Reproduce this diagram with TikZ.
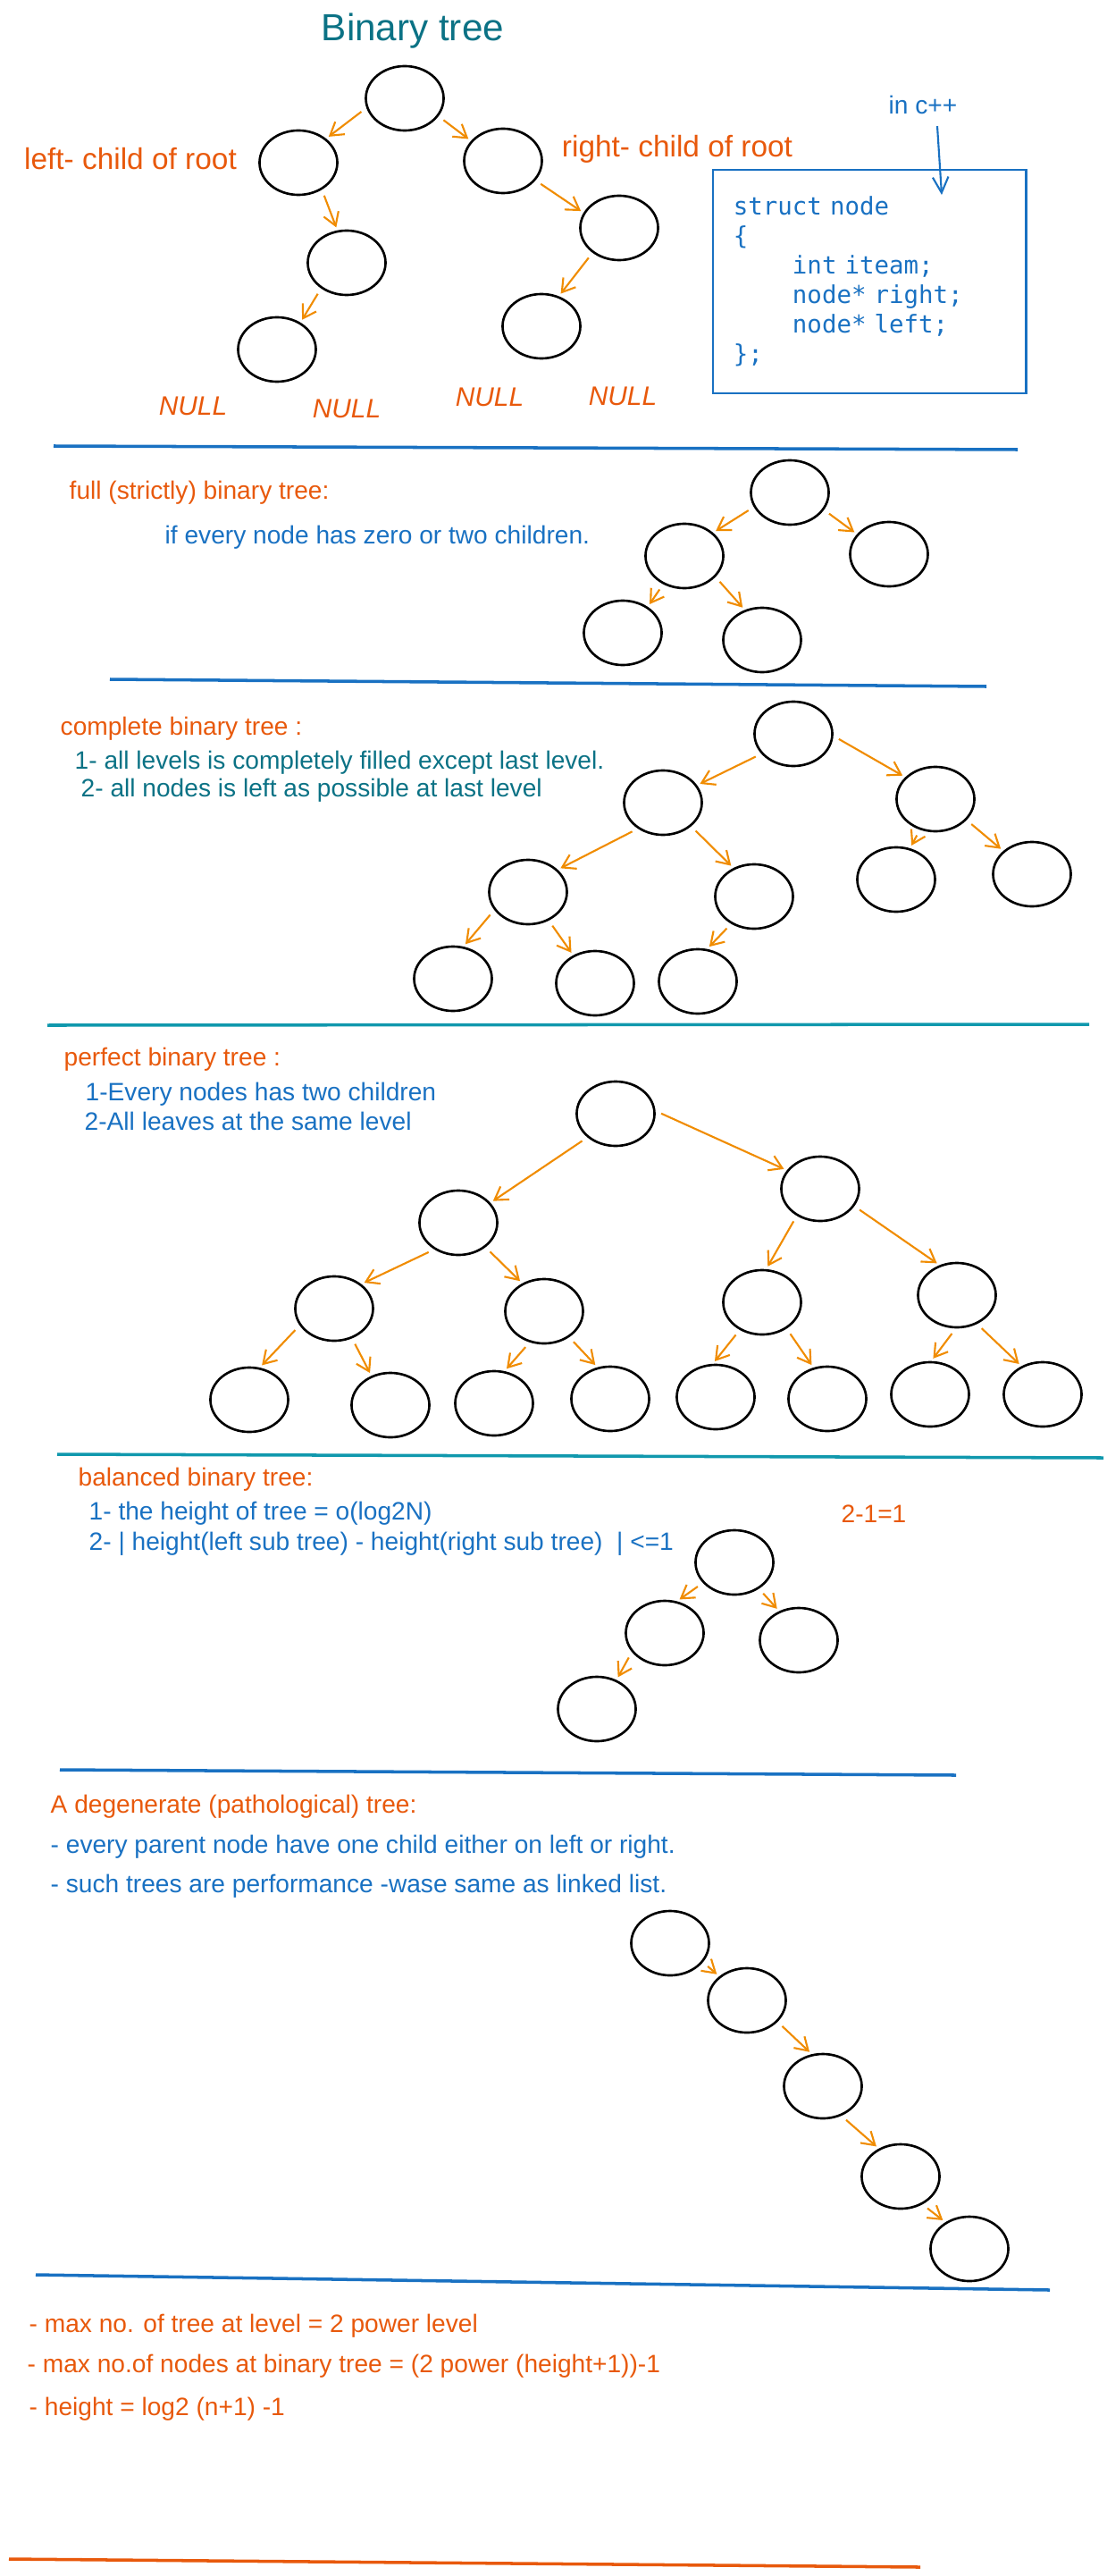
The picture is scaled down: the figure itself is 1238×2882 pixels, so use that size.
\documentclass[tikz,border=0pt]{standalone}
\usepackage{fontspec}
\setmainfont{Liberation Sans}
\setmonofont{DejaVu Sans Mono}
\usepackage{xcolor}
\usepackage{tikz}
\usetikzlibrary{arrows.meta,positioning,shapes.geometric}
\definecolor{XDorange}{HTML}{E8590C}
\definecolor{XDblue}{HTML}{1971C2}
\definecolor{XDteal}{HTML}{0B7285}
\definecolor{XDcyan}{HTML}{1098AD}
\definecolor{XDarrow}{HTML}{F08C00}
\tikzset{
  tnode/.style={ellipse, draw=black, line width=0.75pt,
                minimum width=0.87cm, minimum height=0.72cm, inner sep=0pt},
  arr/.style={-{Straight Barb[length=4pt,width=5pt]}, line width=0.6pt, draw=XDarrow,
              shorten <=2pt, shorten >=1pt},
  txt/.style={anchor=west, inner sep=0pt, font=\fontsize{8}{10}\selectfont, text=#1},
  hand/.style={inner sep=0pt, font=\fontsize{9.5}{12}\selectfont, text=XDorange},
  nullbl/.style={inner sep=0pt, font=\fontsize{8.5}{10}\selectfont\itshape, text=XDorange},
  divider/.style={line width=1pt, draw=#1},
}

\begin{document}
\begin{tikzpicture}[x=0.01cm, y=-0.01cm]
  \useasboundingbox (0,0) rectangle (1238,2882);

  % binary tree
  \node[inner sep=0pt, font=\fontsize{12}{14}\selectfont, text=XDteal] (title) at (462,35) {Binary tree};
  \node[tnode] (btTop) at (453,110) {};
  \node[tnode] (btL) at (334,182) {};
  \node[tnode] (btR) at (563,180) {};
  \node[tnode] (btLL) at (388,294) {};
  \node[tnode] (btRR) at (693,255) {};
  \node[tnode] (btLLL) at (310,391) {};
  \node[tnode] (btRRL) at (606,365) {};
  \draw[arr] (btTop.194) -- (btL.41);
  \draw[arr] (btTop.332) -- (btR.148);
  \draw[arr] (btL.311) -- (btLL.106);
  \draw[arr] (btR.329) -- (btRR.157);
  \draw[arr] (btLL.225) -- (btLLL.49);
  \draw[arr] (btRR.223) -- (btRRL.60);
  \node[hand] (lchild) at (146,178) {left- child of root};
  \node[hand] (rchild) at (758,167) {right- child of root};
  \node[nullbl] (null1) at (216,454) {NULL};
  \node[nullbl] (null2) at (388,457) {NULL};
  \node[nullbl] (null3) at (548,444) {NULL};
  \node[nullbl] (null4) at (697,443) {NULL};

  % c++ struct
  \node[draw=XDblue, line width=0.8pt, minimum width=3.5cm, minimum height=2.5cm,
        text width=3.04cm, inner xsep=0.23cm, align=left, text=XDblue,
        font=\ttfamily\fontsize{7.8}{9.4}\selectfont] (code) at (973,315)
        {struct node\\ \{\\ \phantom{xxxx}int iteam;\\ \phantom{xxxx}node* right;\\
         \phantom{xxxx}node* left;\\ \};};
  \node[txt=XDblue, anchor=center] (incpp) at (1033,117) {in c++};
  \coordinate (cpptip) at (1054,218);
  \draw[-{Straight Barb[length=5pt,width=5pt]}, draw=XDblue, line width=0.6pt]
        ([xshift=0.16cm,yshift=-0.13cm]incpp.south) -- (cpptip);

  \draw[divider=XDblue] (60,499) -- (1139,503);

  % full tree
  \node[txt=XDorange] (fuhead) at (77,551) {full (strictly) binary tree:};
  \node[txt=XDblue] (fudef) at (184,601) {if every node has zero or two children.};
  \node[tnode] (fuTop) at (884,551) {};
  \node[tnode] (fuL) at (766,622) {};
  \node[tnode] (fuR) at (995,620) {};
  \node[tnode] (fuLL) at (697,708) {};
  \node[tnode] (fuLR) at (853,716) {};
  \draw[arr] (fuTop.202) -- (fuL.39);
  \draw[arr] (fuTop.333) -- (fuR.148);
  \draw[arr] (fuL.233) -- (fuLL.46);
  \draw[arr] (fuL.326) -- (fuLR.120);

  \draw[divider=XDblue] (123,760) -- (1104,768);

  % complete tree
  \node[txt=XDorange] (cohead) at (67,815) {complete binary tree :};
  \node[txt=XDteal] (codef1) at (83,853) {1- all levels is completely filled except last level.};
  \node[txt=XDteal] (codef2) at (90,884) {2- all nodes is left as possible at last level};
  \node[tnode] (coTop) at (888,821) {};
  \node[tnode] (coL) at (742,898) {};
  \node[tnode] (coR) at (1047,894) {};
  \node[tnode] (coLL) at (591,998) {};
  \node[tnode] (coLR) at (844,1003) {};
  \node[tnode] (coRL) at (1003,984) {};
  \node[tnode] (coRR) at (1155,978) {};
  \node[tnode] (coLLL) at (507,1095) {};
  \node[tnode] (coLLR) at (666,1100) {};
  \node[tnode] (coLRL) at (781,1098) {};
  \draw[arr] (coTop.212) -- (coL.27);
  \draw[arr] (coTop.357) -- (coR.144);
  \draw[arr] (coL.226) -- (coLL.37);
  \draw[arr] (coL.320) -- (coLR.126);
  \draw[arr] (coR.243) -- (coRL.66);
  \draw[arr] (coR.326) -- (coRR.141);
  \draw[arr] (coLL.208) -- (coLLL.72);
  \draw[arr] (coLL.306) -- (coLLR.128);
  \draw[arr] (coLR.230) -- (coLRL.74);

  \draw[divider=XDcyan] (53,1147) -- (1219,1146);

  % perfect tree
  \node[txt=XDorange] (pehead) at (71,1185) {perfect binary tree :};
  \node[txt=XDblue] (pedef1) at (95,1224) {1-Every nodes has two children};
  \node[txt=XDblue] (pedef2) at (94,1254) {2-All leaves at the same level};
  \node[tnode] (peTop) at (689,1246) {};
  \node[tnode] (peL) at (513,1368) {};
  \node[tnode] (peR) at (918,1330) {};
  \node[tnode] (peLL) at (374,1464) {};
  \node[tnode] (peLR) at (609,1467) {};
  \node[tnode] (peRL) at (853,1457) {};
  \node[tnode] (peRR) at (1071,1449) {};
  \node[tnode] (peLLL) at (279,1566) {};
  \node[tnode] (peLLR) at (437,1572) {};
  \node[tnode] (peLRL) at (553,1570) {};
  \node[tnode] (peLRR) at (683,1565) {};
  \node[tnode] (peRLL) at (801,1563) {};
  \node[tnode] (peRLR) at (926,1565) {};
  \node[tnode] (peRRL) at (1041,1560) {};
  \node[tnode] (peRRR) at (1167,1560) {};
  \draw[arr] (peTop.220) -- (peL.32);
  \draw[arr] (peTop.4) -- (peR.151);
  \draw[arr] (peL.228) -- (peLL.42);
  \draw[arr] (peL.318) -- (peLR.128);
  \draw[arr] (peR.229) -- (peRL.83);
  \draw[arr] (peR.333) -- (peRR.120);
  \draw[arr] (peLL.206) -- (peLLL.72);
  \draw[arr] (peLL.301) -- (peLLR.123);
  \draw[arr] (peLR.245) -- (peLRL.72);
  \draw[arr] (peLR.314) -- (peLRR.112);
  \draw[arr] (peRL.231) -- (peRLL.95);
  \draw[arr] (peRL.313) -- (peRLR.114);
  \draw[arr] (peRR.268) -- (peRRL.88);
  \draw[arr] (peRR.305) -- (peRRR.127);

  \draw[divider=XDcyan] (64,1627) -- (1235,1631);

  % balanced tree
  \node[txt=XDorange] (bahead) at (87,1655) {balanced binary tree:};
  \node[txt=XDblue] (badef1) at (99,1693) {1- the height of tree = o(log2N)};
  \node[txt=XDblue] (badef2) at (99,1727) {2- | height(left sub tree) - height(right sub tree) \ | <=1};
  \node[txt=XDorange, anchor=center] (badiff) at (978,1694) {2-1=1};
  \node[tnode] (baTop) at (822,1748) {};
  \node[tnode] (baL) at (744,1827) {};
  \node[tnode] (baR) at (894,1835) {};
  \node[tnode] (baLL) at (668,1912) {};
  \draw[arr] (baTop.213) -- (baL.69);
  \draw[arr] (baTop.313) -- (baR.124);
  \draw[arr] (baL.210) -- (baLL.56);

  \draw[divider=XDblue] (67,1980) -- (1070,1986);

  % degenerate tree
  \node[txt=XDorange] (dehead) at (56,2021) {A degenerate (pathological) tree:};
  \node[txt=XDblue] (dedef1) at (56,2066) {- every parent node have one child either on left or right.};
  \node[txt=XDblue] (dedef2) at (56,2110) {- such trees are performance -wase same as linked list.};
  \node[tnode] (de1) at (750,2174) {};
  \node[tnode] (de2) at (836,2238) {};
  \node[tnode] (de3) at (921,2334) {};
  \node[tnode] (de4) at (1008,2435) {};
  \node[tnode] (de5) at (1085,2516) {};
  \draw[arr] (de1.330) -- (de2.139);
  \draw[arr] (de2.325) -- (de3.109);
  \draw[arr] (de3.302) -- (de4.128);
  \draw[arr] (de4.308) -- (de5.132);

  \draw[divider=XDblue] (40,2545) -- (1175,2562);

  % formulas
  \node[txt=XDorange] (rule1) at (32,2602) {- max no. of tree at level = 2 power level};
  \node[txt=XDorange] (rule2) at (30,2647) {- max no.of nodes at binary tree = (2 power (height+1))-1};
  \node[txt=XDorange] (rule3) at (32,2695) {- height = log2 (n+1) -1};

  \draw[divider=XDorange] (10,2863) -- (1030,2872);
\end{tikzpicture}
\end{document}
